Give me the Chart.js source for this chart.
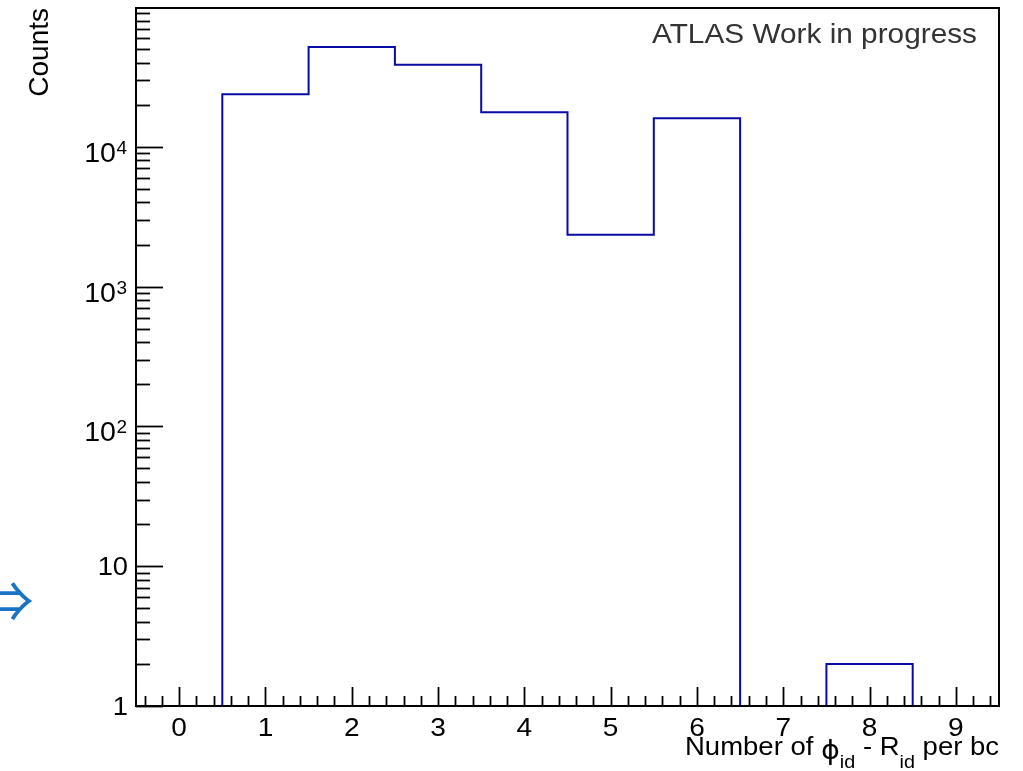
<!DOCTYPE html>
<html>
<head>
<meta charset="utf-8">
<script src="https://cdn.jsdelivr.net/npm/chart.js@4/dist/chart.umd.min.js"></script>
<style>
  html, body { margin: 0; padding: 0; background: #ffffff; }
  canvas { display: block; }
</style>
</head>
<body>
<canvas id="c" width="1023" height="771"></canvas>
<script>
// ---- data ----
const binCenters = [0, 1, 2, 3, 4, 5, 6, 7, 8, 9];
const binWidth = 1;
const counts = [0, 23800, 51800, 38700, 17700, 2350, 16000, 0, 2, 0];
const xTickValues = [0, 1, 2, 3, 4, 5, 6, 7, 8, 9];
const xTickLabels = ['0', '1', '2', '3', '4', '5', '6', '7', '8', '9'];
const yTickValues = [1, 10, 100, 1000, 10000];
const yTickBases = ['1', '10', '10', '10', '10'];
const yTickExps = ['', '', '2', '3', '4'];
const xRange = [-0.5, 9.5];
const yRange = [1, 98400];
const xTitleParts = [
  { t: 'Number of ', sub: false },
  { t: '\u03D5', sub: false, greek: true },
  { t: 'id', sub: true },
  { t: ' - R', sub: false },
  { t: 'id', sub: true },
  { t: ' per bc', sub: false }
];
const yTitle = 'Counts';
const labelText = 'ATLAS Work in progress';

// step outline built from bin edges and counts (empty bins sit at the axis minimum)
const stepPoints = binCenters.map((c, i) => ({ x: c - binWidth / 2, y: Math.max(counts[i], yRange[0]) }));
stepPoints.push({ x: binCenters[binCenters.length - 1] + binWidth / 2, y: Math.max(counts[counts.length - 1], yRange[0]) });

const FONT = '"Liberation Sans", Arial, Helvetica, sans-serif';

function fitText(ctx, text, font, x, baseline, targetWidth) {
  ctx.save();
  ctx.font = font;
  const w = ctx.measureText(text).width;
  ctx.translate(x, baseline);
  ctx.scale(targetWidth / w, 1);
  ctx.textAlign = 'left';
  ctx.textBaseline = 'alphabetic';
  ctx.fillText(text, 0, 0);
  ctx.restore();
}

const rootAxes = {
  id: 'rootAxes',
  afterDraw(chart) {
    const ctx = chart.ctx;
    const a = chart.chartArea;
    const xs = chart.scales.x, ys = chart.scales.y;
    ctx.save();
    ctx.strokeStyle = '#000000';
    ctx.fillStyle = '#000000';
    ctx.lineWidth = 2;
    ctx.strokeRect(a.left, a.top, a.right - a.left, a.bottom - a.top);

    // x ticks
    ctx.lineWidth = 1.8;
    for (let k = -5; k <= 50; k++) {
      const v = k / 5;
      if (v <= xRange[0] || v >= xRange[1]) continue;
      const px = Math.round(xs.getPixelForValue(v)) + 0.5;
      const len = (k % 5 === 0) ? 19 : 10;
      ctx.beginPath();
      ctx.moveTo(px, a.bottom);
      ctx.lineTo(px, a.bottom - len);
      ctx.stroke();
    }
    // y ticks
    for (let d = 0; d <= 5; d++) {
      for (let m = 1; m <= 9; m++) {
        const v = m * Math.pow(10, d);
        if (v < yRange[0] || v > yRange[1]) continue;
        const py = Math.round(ys.getPixelForValue(v)) + 0.5;
        const len = (m === 1) ? 27 : 14;
        ctx.beginPath();
        ctx.moveTo(a.left, py);
        ctx.lineTo(a.left + len, py);
        ctx.stroke();
      }
    }

    // x tick labels
    ctx.font = '26px ' + FONT;
    ctx.textBaseline = 'alphabetic';
    xTickValues.forEach((v, i) => {
      const px = xs.getPixelForValue(v);
      ctx.save();
      ctx.translate(px, 736);
      ctx.scale(1.08, 1);
      ctx.textAlign = 'center';
      ctx.fillText(xTickLabels[i], 0, 0);
      ctx.restore();
    });

    // y tick labels
    yTickValues.forEach((v, i) => {
      const py = ys.getPixelForValue(v);
      if (yTickExps[i] === '') {
        ctx.save();
        ctx.font = '26px ' + FONT;
        ctx.translate(128, py + 9);
        ctx.scale(1.05, 1);
        ctx.textAlign = 'right';
        ctx.fillText(yTickBases[i], 0, 0);
        ctx.restore();
      } else {
        ctx.save();
        ctx.font = '28px ' + FONT;
        ctx.translate(116, py + 15);
        ctx.scale(1.02, 1);
        ctx.textAlign = 'right';
        ctx.fillText(yTickBases[i], 0, 0);
        ctx.restore();
        ctx.save();
        ctx.font = '19px ' + FONT;
        ctx.translate(116.5, py + 7);
        ctx.textAlign = 'left';
        ctx.fillText(yTickExps[i], 0, 0);
        ctx.restore();
      }
    });

    // y title (rotated)
    ctx.save();
    ctx.font = '28px ' + FONT;
    ctx.translate(48, a.top);
    ctx.rotate(-Math.PI / 2);
    ctx.textAlign = 'right';
    ctx.textBaseline = 'alphabetic';
    ctx.fillText(yTitle, 0, 0);
    ctx.restore();

    // x title with subscripts, fitted to its span
    ctx.save();
    const mainF = '25px ' + FONT, subF = '18px ' + FONT, greekF = '26px "DejaVu Sans", ' + FONT;
    const widths = xTitleParts.map(p => {
      ctx.font = p.sub ? subF : (p.greek ? greekF : mainF);
      return ctx.measureText(p.t).width;
    });
    const total = widths.reduce((s, w) => s + w, 0);
    const target = 314;
    ctx.translate(999 - target, 755);
    ctx.scale(target / total, 1);
    let cx = 0;
    xTitleParts.forEach((p, i) => {
      ctx.font = p.sub ? subF : (p.greek ? greekF : mainF);
      const dy = p.sub ? 13 : (p.greek ? 4 : 0);
      ctx.fillText(p.t, cx, dy);
      cx += widths[i];
    });
    ctx.restore();

    // ATLAS label
    ctx.fillStyle = '#333333';
    fitText(ctx, labelText, '28px ' + FONT, 652, 43, 325);

    // arrow glyph at the left edge
    ctx.save();
    ctx.fillStyle = '#1a74c6';
    const af = '"Noto Sans CJK JP", "DejaVu Sans", sans-serif';
    const base = 60;
    ctx.font = base + 'px ' + af;
    let m = ctx.measureText('\u21D2');
    const inkH = m.actualBoundingBoxAscent + m.actualBoundingBoxDescent;
    const fs = base * 38 / inkH;
    ctx.font = fs + 'px ' + af;
    m = ctx.measureText('\u21D2');
    const right = m.actualBoundingBoxRight;
    const asc = m.actualBoundingBoxAscent, desc = m.actualBoundingBoxDescent;
    ctx.textAlign = 'left';
    ctx.textBaseline = 'alphabetic';
    ctx.fillText('\u21D2', 33 - right, 601 + (asc - desc) / 2);
    ctx.restore();

    ctx.restore();
  }
};

new Chart(document.getElementById('c'), {
  type: 'line',
  data: {
    datasets: [{
      data: stepPoints,
      stepped: true,
      borderColor: '#0a0aa6',
      borderWidth: 2,
      pointRadius: 0,
      fill: false,
      tension: 0,
      clip: 2
    }]
  },
  options: {
    responsive: false,
    animation: false,
    events: [],
    layout: { padding: { left: 136, top: 8, right: 24, bottom: 65 } },
    plugins: { legend: { display: false }, tooltip: { enabled: false } },
    scales: {
      x: { type: 'linear', min: xRange[0], max: xRange[1], display: false },
      y: { type: 'logarithmic', min: yRange[0], max: yRange[1], display: false }
    }
  },
  plugins: [rootAxes]
});
</script>
</body>
</html>
